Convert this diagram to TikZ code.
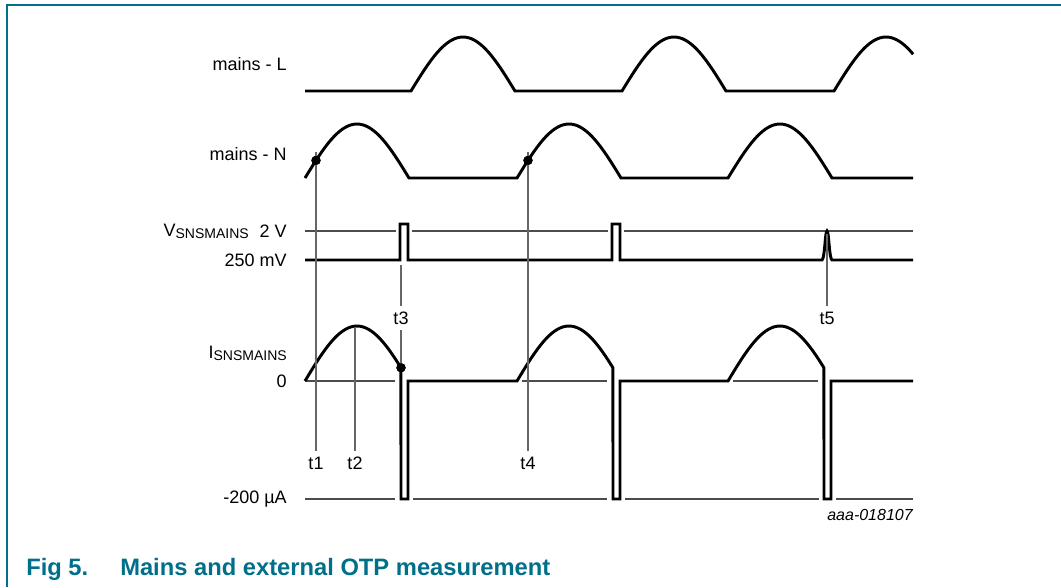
\documentclass[tikz,border=0pt]{standalone}
\usepackage{fontspec}
\setmainfont{Liberation Sans}
\definecolor{nxpteal}{RGB}{0,112,138}
\newcommand\subtxt[1]{\raisebox{-2pt}{\fontsize{10.5pt}{12pt}\selectfont #1}}
\begin{document}
\begin{tikzpicture}[x=0.75pt,y=-0.75pt,
  sig/.style={line width=2.2pt, line join=miter, black},
  thinln/.style={line width=0.9pt, black!70},
  tline/.style={line width=0.9pt, black!60},
  lbl/.style={font=\fontsize{13.5pt}{16pt}\selectfont, inner sep=0pt, anchor=east},
  tlbl/.style={font=\fontsize{13.5pt}{16pt}\selectfont, inner sep=4pt},
  dotn/.style={circle, fill=black, draw=black, line width=0.5pt, inner sep=0pt, minimum size=6.5pt},
  caption/.style={font=\fontsize{17.8pt}{20pt}\selectfont\bfseries, text=nxpteal, inner sep=0pt, anchor=base west}
]
\useasboundingbox (0,0) rectangle (1061,587);
% frame
\draw[nxpteal, line width=1.2pt] (1061,5) -- (7,5) -- (7,587);

% left labels
\node[lbl] (lL) at (287,64) {mains - L};
\node[lbl] (lN) at (287,154) {mains - N};
\node[lbl] (l2V) at (287,231) {2 V};
\node[lbl, anchor=base east] (lV) at (249,236) {V\subtxt{SNSMAINS}};
\node[lbl] (l250) at (287,260) {250 mV};
\node[lbl, anchor=base east] (lI) at (287,358) {I\subtxt{SNSMAINS}};
\node[lbl] (l0) at (287,381) {0};
\node[lbl] (l200) at (287,499) {-200 µA};

% thin reference lines
\draw[thinln] (305,231) -- (396,231);
\draw[thinln] (412,231) -- (608,231);
\draw[thinln] (624,231) -- (913,231);
\draw[thinln] (305,381) -- (395,381);
\draw[thinln] (522,381) -- (607,381);
\draw[thinln] (733,381) -- (818,381);
\draw[thinln] (305,499) -- (395,499);
\draw[thinln] (413,499) -- (607,499);
\draw[thinln] (625,499) -- (819,499);
\draw[thinln] (836,499) -- (913,499);

% mains - L
\draw[sig] (305,91) -- (411,91)
  -- plot[domain=0:180,samples=37] ({411+\x*0.57778},{91-54*sin(\x)})
  -- (622,91)
  -- plot[domain=0:180,samples=37] ({622+\x*0.57778},{91-54*sin(\x)})
  -- (834,91)
  -- plot[domain=0:137,samples=30] ({834+\x*0.57778},{91-54*sin(\x)});

% mains - N
\draw[sig] plot[domain=0:180,samples=37] ({305+\x*0.57778},{178-54*sin(\x)})
  -- (517,178)
  -- plot[domain=0:180,samples=37] ({517+\x*0.57778},{178-54*sin(\x)})
  -- (728,178)
  -- plot[domain=0:180,samples=37] ({728+\x*0.57778},{178-54*sin(\x)})
  -- (913,178);

% V SNSMAINS
\draw[sig] (305,260) -- (400,260) -- (400,224) -- (408,224) -- (408,260)
  -- (612,260) -- (612,224) -- (620,224) -- (620,260)
  -- (822,260) .. controls (825,258) and (825,231) .. (827,231)
  .. controls (829,231) and (829,258) .. (832,260) -- (913,260);

% I SNSMAINS
\draw[sig] plot[domain=0:166,samples=34] ({305+\x*0.57778},{381-55*sin(\x)})
  -- (401,499) -- (408,499) -- (408,381) -- (517,381)
  -- plot[domain=0:166,samples=34] ({517+\x*0.57778},{381-55*sin(\x)})
  -- (613,499) -- (620,499) -- (620,381) -- (728,381)
  -- plot[domain=0:166,samples=34] ({728+\x*0.57778},{381-55*sin(\x)})
  -- (824,499) -- (831,499) -- (831,381) -- (913,381);

% time labels
\node[tlbl] (t1) at (316,463) {t1};
\node[tlbl] (t2) at (355,463) {t2};
\node[tlbl] (t3) at (401,318) {t3};
\node[tlbl] (t4) at (528,463) {t4};
\node[tlbl] (t5) at (827,318) {t5};

\coordinate (t1top) at (316,152);
\coordinate (t2top) at (355,327);
\coordinate (t3top) at (401,265);
\coordinate (t4top) at (528,152);
\coordinate (t5top) at (827,234);

% dots
\node[dotn] (d1) at (316,160.4) {};
\node[dotn] (d4) at (528,160.4) {};
\node[dotn] (d3) at (401,367.7) {};

\draw[tline] (t1top) -- (t1.north);
\draw[tline] (t2top) -- (t2.north);
\draw[tline] (t3top) -- (t3.north);
\draw[tline] (t3.south) -- (d3.center);
\draw[tline] (t4top) -- (t4.north);
\draw[tline] (t5top) -- (t5.north);

% redraw dots on top
\fill (d1) circle[radius=4.5];
\fill (d4) circle[radius=4.5];
\fill (d3) circle[radius=4.5];

% id
\node[font=\fontsize{12pt}{14pt}\selectfont\itshape, inner sep=0pt, anchor=east] (id) at (913,515) {aaa-018107};

% caption
\node[caption] (fig) at (26,575) {Fig 5.};
\node[caption] (cap) at (120,575) {Mains and external OTP measurement};
\end{tikzpicture}
\end{document}
